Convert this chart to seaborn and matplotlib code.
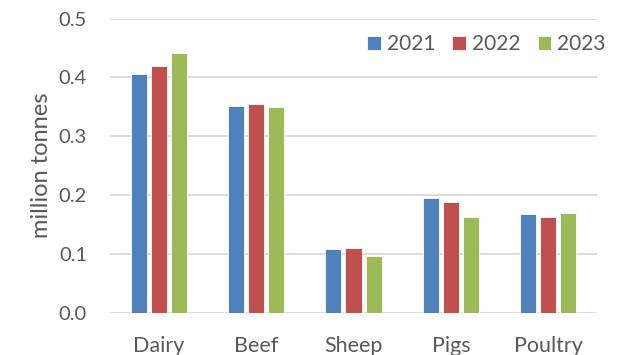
import matplotlib
matplotlib.use("Agg")
import matplotlib.pyplot as plt
import seaborn as sns
import pandas as pd

categories = ["Dairy", "Beef", "Sheep", "Pigs", "Poultry"]
years = ["2021", "2022", "2023"]
v2021 = [0.406, 0.352, 0.108, 0.195, 0.168]
v2022 = [0.419, 0.355, 0.110, 0.188, 0.163]
v2023 = [0.441, 0.349, 0.096, 0.163, 0.170]
colors = ["#4F81BD", "#C0504D", "#9BBB59"]

rows = []
for yr, vals in zip(years, [v2021, v2022, v2023]):
    for c, v in zip(categories, vals):
        rows.append({"cat": c, "year": yr, "val": v})
df = pd.DataFrame(rows)

sns.set_theme(style="white")
plt.rcParams["font.family"] = ["Lato", "DejaVu Sans"]
text_color = "#595959"

fig = plt.figure(figsize=(6.27, 3.55), dpi=100)
ax = fig.add_axes([110 / 627, 1 - 312.7 / 355, (597 - 110) / 627, (312.7 - 18.5) / 355])

sns.barplot(data=df, x="cat", y="val", hue="year", palette=colors, ax=ax,
            saturation=1, width=0.62, gap=0.2, edgecolor="white",
            linewidth=0.6, zorder=3)

ax.set_ylim(0, 0.5)
ax.set_yticks([0.0, 0.1, 0.2, 0.3, 0.4, 0.5])
ax.set_yticklabels(["0.0", "0.1", "0.2", "0.3", "0.4", "0.5"])
ax.yaxis.grid(True, color="#D9D9D9", linewidth=1.3, zorder=0)
ax.set_axisbelow(True)
for s in ax.spines.values():
    s.set_visible(False)
ax.tick_params(axis="both", length=0, colors=text_color)
ax.tick_params(axis="y", pad=16.5, labelsize=14.5)
ax.tick_params(axis="x", pad=16.5, labelsize=15.5)
ax.set_xlabel("")
ax.set_ylabel("million tonnes", fontsize=17, color=text_color, labelpad=5)

leg = ax.legend(loc="center right", ncol=3, frameon=False, fontsize=15,
                handlelength=0.65, handleheight=0.65, handletextpad=0.3,
                columnspacing=0.82, borderaxespad=0, borderpad=0,
                bbox_to_anchor=(606 / 627, 1 - 44 / 355),
                bbox_transform=fig.transFigure)
for t in leg.get_texts():
    t.set_color(text_color)

fig.savefig("out.png", dpi=100)
